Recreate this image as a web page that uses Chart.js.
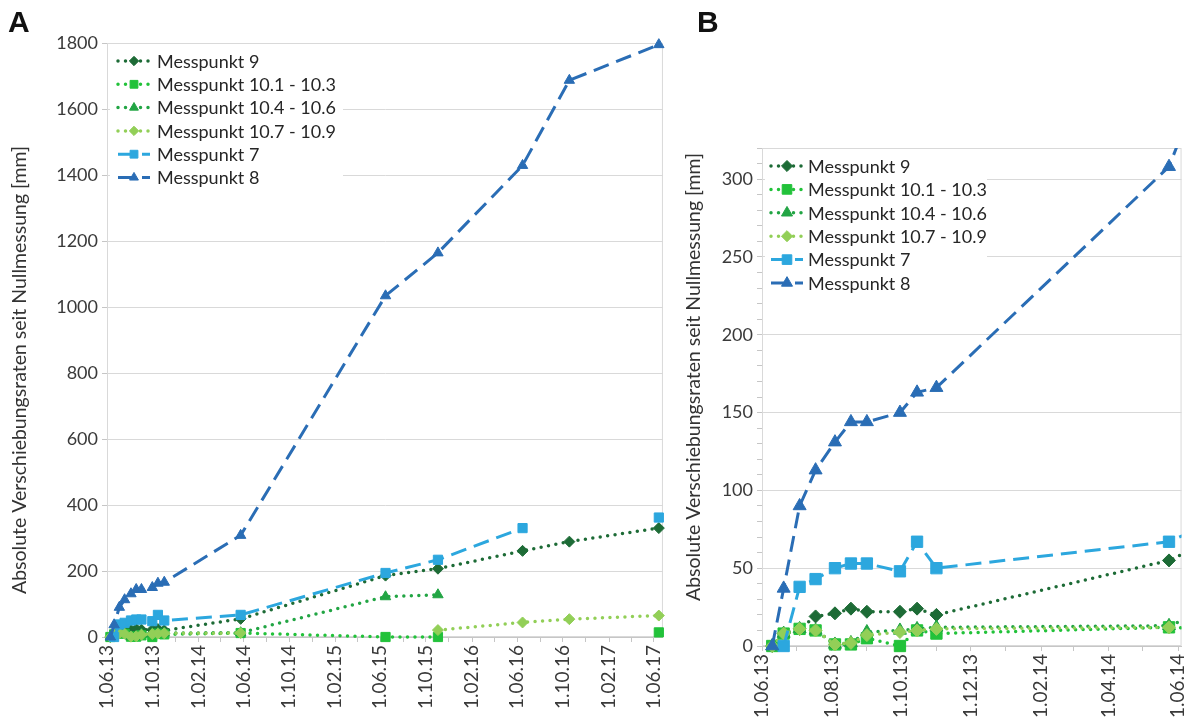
<!DOCTYPE html>
<html>
<head>
<meta charset="utf-8">
<script src="https://cdn.jsdelivr.net/npm/chart.js@4.4.1/dist/chart.umd.min.js"></script>
<style>
  html, body { margin: 0; padding: 0; background: #fff; }
  #wrap { position: relative; width: 1204px; height: 720px; overflow: hidden; }
  canvas { position: absolute; top: 0; }
  #chartA { left: 0; }
  #chartB { left: 680px; }
  .panel { position: absolute; top: 7px; font: bold 30px "Liberation Sans", Arial, sans-serif; line-height: 30px; color: #111; }
</style>
</head>
<body>
<div id="wrap">
  <canvas id="chartA" width="680" height="720"></canvas>
  <canvas id="chartB" width="524" height="720"></canvas>
  <div class="panel" style="left:8px">A</div>
  <div class="panel" style="left:697px">B</div>
</div>
<script>
// measurement dates and displacement per measuring point [mm]
const measureDates = ['2013-06-10', '2013-06-20', '2013-07-04', '2013-07-18', '2013-08-04', '2013-08-18',
  '2013-09-01', '2013-09-30', '2013-10-15', '2013-11-01', '2014-05-24', '2015-06-15',
  '2015-11-02', '2016-06-15', '2016-10-18', '2017-06-14'];

const mp9    = [0, 8, 11, 19, 21, 24, 22, 22, 24, 20, 55, 186, 207, 261, 289, 330];
const mp10_1 = [0, 8, 11, 10, 1, 1, 5, 0, 10, 8, 12, 0, 0, null, null, 14];
const mp10_4 = [0, 8, 11, 10, 1, 2, 9, 10, 11, 12, 13, 122, 128, null, null, null];
const mp10_7 = [0, 8, 11, 10, 1, 2, 7, 9, 10, 11, 12, null, 21, 44, 54, 65];
const mp7    = [null, 0, 38, 43, 50, 53, 53, 48, 67, 50, 67, 194, 234, 330, null, 362];
const mp8    = [0, 37, 90, 113, 131, 144, 144, 150, 163, 166, 308, 1034, 1164, 1429, 1687, 1795];

const seriesNames = ['Messpunkt 9', 'Messpunkt 10.1 - 10.3', 'Messpunkt 10.4 - 10.6',
  'Messpunkt 10.7 - 10.9', 'Messpunkt 7', 'Messpunkt 8'];
const seriesValues = [mp9, mp10_1, mp10_4, mp10_7, mp7, mp8];

const ticksA = ['1.06.13', '1.10.13', '1.02.14', '1.06.14', '1.10.14', '1.02.15', '1.06.15',
  '1.10.15', '1.02.16', '1.06.16', '1.10.16', '1.02.17', '1.06.17'];
const ticksB = ['1.06.13', '1.08.13', '1.10.13', '1.12.13', '1.02.14', '1.04.14', '1.06.14'];

const yTitle = 'Absolute Verschiebungsraten seit Nullmessung [mm]';

// line look of each series
const seriesStyle = [
  { color: '#1d6b36', dash: 'dot',  point: 'rectRot' },
  { color: '#22c23a', dash: 'dot',  point: 'rect' },
  { color: '#22a544', dash: 'dot',  point: 'triangle' },
  { color: '#92cf57', dash: 'dot',  point: 'rectRot' },
  { color: '#2ca7de', dash: 'dash', point: 'rect' },
  { color: '#2a6db5', dash: 'dash', point: 'triangle' }
];

const DAY = 86400000;
const origin = Date.UTC(2013, 5, 1);
function dayOfIso(s) {
  const [y, m, d] = s.split('-').map(Number);
  return Math.round((Date.UTC(y, m - 1, d) - origin) / DAY);
}
function dayOfLabel(s) {
  const [d, m, yy] = s.split('.').map(Number);
  return Math.round((Date.UTC(2000 + yy, m - 1, d) - origin) / DAY);
}
// first-of-month tick positions between two labels
function monthTicks(from, to, step) {
  const out = [];
  let [, m, yy] = from.split('.').map(Number);
  let y = 2000 + yy;
  const end = dayOfLabel(to);
  for (;;) {
    const v = Math.round((Date.UTC(y, m - 1, 1) - origin) / DAY);
    if (v > end) break;
    out.push({ value: v });
    m += step;
    while (m > 12) { m -= 12; y++; }
  }
  return out;
}

const xDays = measureDates.map(dayOfIso);

function buildDatasets(sizes) {
  return seriesNames.map((name, i) => {
    const st = seriesStyle[i];
    const dotted = st.dash === 'dot';
    const r = st.point === 'rect' ? sizes.rect : st.point === 'triangle' ? sizes.tri : sizes.dia;
    return {
      label: name,
      data: xDays.map((x, k) => ({ x: x, y: seriesValues[i][k] })),
      borderColor: st.color,
      backgroundColor: st.color,
      borderWidth: dotted ? 3.5 : 3,
      borderDash: dotted ? [0, 7.5] : [16, 8],
      borderCapStyle: dotted ? 'round' : 'butt',
      pointStyle: st.point,
      pointRadius: r,
      pointBorderWidth: 1,
      pointBorderColor: st.color,
      pointBackgroundColor: st.color,
      tension: 0,
      spanGaps: false,
      order: seriesNames.length - i,
      clip: sizes.clip
    };
  });
}

const frame = {
  id: 'frame',
  beforeDatasetsDraw(chart) {
    const a = chart.chartArea, ctx = chart.ctx;
    ctx.save();
    ctx.strokeStyle = '#d9d9d9';
    ctx.lineWidth = 1;
    ctx.strokeRect(a.left + 0.5, a.top + 0.5, a.right - a.left - 1, a.bottom - a.top - 1);
    ctx.restore();
  }
};

// vertical axis caption, placed freely left of the value labels
const sideTitle = {
  id: 'sideTitle',
  afterDraw(chart, args, o) {
    const ctx = chart.ctx;
    ctx.save();
    ctx.translate(o.x, o.y);
    ctx.rotate(-Math.PI / 2);
    ctx.font = o.font;
    ctx.fillStyle = '#333';
    ctx.textAlign = 'center';
    ctx.textBaseline = 'middle';
    ctx.fillText(o.text, 0, 0);
    ctx.restore();
  }
};

const legendBox = {
  id: 'legendBox',
  beforeDatasetsDraw(chart, args, o) {
    const ctx = chart.ctx;
    ctx.save();
    ctx.fillStyle = '#fff';
    ctx.fillRect(o.x, o.y, o.w, o.h);
    ctx.font = o.font;
    ctx.textBaseline = 'middle';
    chart.data.datasets.forEach((ds, i) => {
      const y = o.y + o.first + i * o.row;
      ctx.save();
      ctx.strokeStyle = ds.borderColor;
      ctx.lineWidth = ds.borderWidth;
      ctx.lineCap = ds.borderCapStyle;
      ctx.setLineDash(ds.borderDash);
      ctx.beginPath();
      ctx.moveTo(o.sx, y);
      ctx.lineTo(o.sx + o.sw, y);
      ctx.stroke();
      ctx.restore();
      ctx.fillStyle = ds.backgroundColor;
      ctx.strokeStyle = ds.borderColor;
      Chart.helpers.drawPoint(ctx, { pointStyle: ds.pointStyle, radius: ds.pointRadius * 0.85, borderWidth: 1, rotation: 0 }, o.sx + o.sw / 2, y);
      ctx.fillStyle = '#262626';
      ctx.fillText(ds.label, o.tx, y + 1);
    });
    ctx.restore();
  }
};

function makeChart(id, cfg) {
  const tickLabels = new Map(cfg.labels.map(l => [dayOfLabel(l), l]));
  const minor = monthTicks(cfg.labels[0], cfg.labels[cfg.labels.length - 1], cfg.minorStep);
  return new Chart(document.getElementById(id), {
    type: 'line',
    data: { datasets: buildDatasets(cfg.sizes) },
    plugins: [frame, legendBox, sideTitle],
    options: {
      responsive: false,
      animation: false,
      devicePixelRatio: 1,
      layout: { padding: cfg.padding },
      plugins: {
        legend: { display: false },
        tooltip: { enabled: false },
        legendBox: cfg.legend,
        sideTitle: { text: yTitle, x: cfg.titleX, y: cfg.titleY, font: '19.5px Lato' }
      },
      scales: {
        x: {
          type: 'linear',
          min: 0,
          max: cfg.xMax,
          afterBuildTicks: (s) => { s.ticks = minor.slice(); },
          afterFit: (s) => { s.height = cfg.xHeight; },
          border: { color: '#c6c6c6', width: 1 },
          grid: { drawOnChartArea: false, color: '#c6c6c6', tickLength: 5 },
          ticks: {
            autoSkip: false,
            minRotation: 90,
            maxRotation: 90,
            padding: 3,
            color: '#3a3a3a',
            font: { family: 'Lato', size: 19 },
            callback: (v) => tickLabels.get(Math.round(v)) || ''
          }
        },
        y: {
          min: 0,
          max: cfg.yMax,
          afterFit: (s) => { s.width = cfg.yWidth; },
          border: { color: '#c6c6c6', width: 1 },
          grid: {
            color: (c) => (c.tick && c.tick.value % cfg.yMajor === 0) ? '#d9d9d9' : 'rgba(0,0,0,0)',
            tickColor: '#c6c6c6',
            tickLength: 5
          },
          ticks: {
            stepSize: cfg.yStep,
            includeBounds: false,
            autoSkip: false,
            padding: 4,
            color: '#3a3a3a',
            font: { family: 'Lato', size: 18 },
            callback: (v) => v % cfg.yMajor === 0 ? String(v) : ''
          }
        }
      }
    }
  });
}

makeChart('chartA', {
  labels: ticksA, minorStep: 2, xMax: 1485,
  yMax: 1800, yStep: 200, yMajor: 200,
  yWidth: 107, xHeight: 83,
  titleX: 20, titleY: 370,
  padding: { left: 0, right: 15, top: 43, bottom: 0 },
  sizes: { rect: 6.5, tri: 6, dia: 5.5, clip: { left: 10, top: 10, right: 10, bottom: 10 } },
  legend: { x: 110, y: 46, w: 233, h: 168, first: 15, row: 23.3, sx: 118, sw: 32, tx: 157,
            font: '18px Lato' }
});

makeChart('chartB', {
  labels: ticksB, minorStep: 1, xMax: 368,
  yMax: 320, yStep: 10, yMajor: 50,
  yWidth: 82, xHeight: 74,
  titleX: 14, titleY: 377,
  padding: { left: 0, right: 5, top: 148, bottom: 0 },
  sizes: { rect: 8, tri: 7.5, dia: 6.5, clip: { left: 10, top: 0, right: 0, bottom: 10 } },
  legend: { x: 85, y: 150, w: 222, h: 146, first: 16, row: 23.4, sx: 91, sw: 32, tx: 128,
            font: '18px Lato' }
});
</script>
</body>
</html>
